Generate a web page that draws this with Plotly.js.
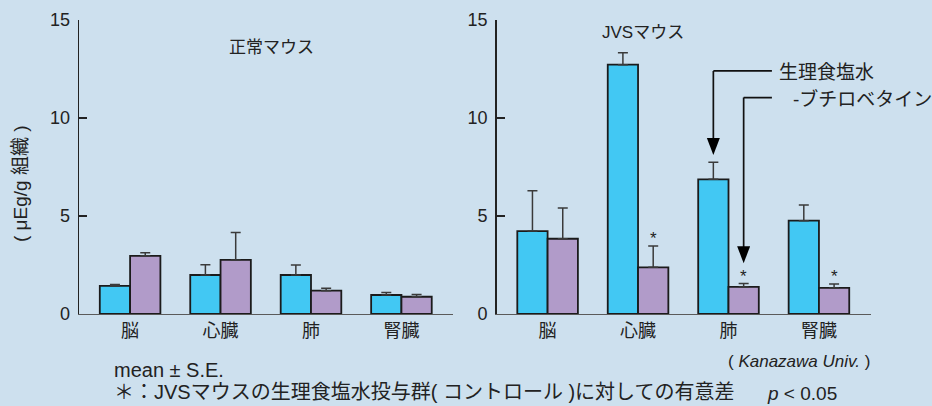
<!DOCTYPE html>
<html>
<head>
<meta charset="utf-8">
<script src="https://cdn.plot.ly/plotly-3.0.1.min.js"></script>
<style>
  html, body { margin: 0; padding: 0; background: #cde0ee; }
  #chart { width: 932px; height: 406px; }
</style>
</head>
<body>
<div id="chart"></div>
<script>
// Organs on the x axis and the two treatment groups
const organs = ['脳', '心臓', '肺', '腎臓'];
const seriesNames = ['生理食塩水', '-ブチロベタイン'];
const panelTitles = ['正常マウス', 'JVSマウス'];
const yTicks = [0, 5, 10, 15];

// 正常マウス: mean and S.E. (μEg/g 組織)
const normalSaline   = [1.43, 1.99, 1.99, 0.97];
const normalSalineSE = [0.08, 0.52, 0.51, 0.13];
const normalButyro   = [2.97, 2.76, 1.19, 0.88];
const normalButyroSE = [0.15, 1.40, 0.12, 0.11];

// JVSマウス: mean and S.E. (μEg/g 組織)
const jvsSaline   = [4.23, 12.72, 6.87, 4.76];
const jvsSalineSE = [2.06, 0.61, 0.87, 0.80];
const jvsButyro   = [3.84, 2.38, 1.38, 1.33];
const jvsButyroSE = [1.57, 1.09, 0.17, 0.20];
const jvsSignificant = [false, true, true, true];

const BLUE = '#42c8f3';
const PURPLE = '#b19bc9';
const BG = '#cde0ee';
const INK = '#222';
const FONT = 'Liberation Sans, Arial, Noto Sans CJK JP, sans-serif';
const BARGAP = 0.33;
const HALF = (1 - BARGAP) / 4;  // offset of each bar centre from the category centre

const idx = organs.map((_, i) => i);
const zeros = organs.map(() => 0);

function barTrace(values, se, color, xa, ya) {
  return {
    type: 'bar', x: idx, y: values, xaxis: xa, yaxis: ya,
    marker: { color: color, line: { color: '#1b1b1b', width: 1.8 } },
    error_y: { type: 'data', symmetric: false, array: se, arrayminus: zeros,
               color: '#3a3a3a', thickness: 1.5, width: 5 },
    hoverinfo: 'skip', showlegend: false
  };
}

const data = [
  barTrace(normalSaline, normalSalineSE, BLUE, 'x', 'y'),
  barTrace(normalButyro, normalButyroSE, PURPLE, 'x', 'y'),
  barTrace(jvsSaline, jvsSalineSE, BLUE, 'x2', 'y2'),
  barTrace(jvsButyro, jvsButyroSE, PURPLE, 'x2', 'y2')
];

const W = 932, H = 406;
const px = v => v / W;
const py = v => 1 - v / H;

function xAxis(domain, anchor) {
  return {
    domain: domain, anchor: anchor, range: [-0.565, 3.57],
    tickvals: idx, ticktext: organs, ticks: '',
    tickfont: { family: FONT, size: 18, color: INK },
    showline: true, linecolor: '#5a5a5a', linewidth: 1.4,
    showgrid: false, zeroline: false, fixedrange: true
  };
}
function yAxis(anchor) {
  return {
    domain: [py(314), py(20)], anchor: anchor, range: [0, 15],
    tickvals: yTicks, ticks: 'inside', ticklen: 8, tickwidth: 1.3, tickcolor: INK,
    ticklabelstandoff: 4,
    tickfont: { family: FONT, size: 18, color: INK },
    showline: true, linecolor: INK, linewidth: 1.3,
    showgrid: false, zeroline: false, fixedrange: true
  };
}

// Leader arrows pointing at the 肺 bars of the JVS panel
const lung = 2;
const salineX = lung - HALF, butyroX = lung + HALF;
const salineTip = jvsSaline[lung] + jvsSalineSE[lung] + 0.37;
const butyroTip = jvsButyro[lung] + jvsButyroSE[lung] + 1.04;
const salineElbow = 12.4, butyroElbow = 11.04, leaderEnd = 2.48;
const lineStyle = { color: '#111', width: 1.7 };

function leader(x, elbow, tip) {
  return [
    { type: 'line', xref: 'x2', yref: 'y2', x0: leaderEnd, x1: x, y0: elbow, y1: elbow, line: lineStyle },
    { type: 'line', xref: 'x2', yref: 'y2', x0: x, x1: x, y0: elbow, y1: tip + 0.5, line: lineStyle },
    { type: 'path', xref: 'x2', yref: 'y2', xsizemode: 'pixel', ysizemode: 'pixel',
      xanchor: x, yanchor: tip, path: 'M0,0 L-6.5,17 L6.5,17 Z',
      fillcolor: '#000', line: { width: 0 } }
  ];
}
const shapes = leader(salineX, salineElbow, salineTip).concat(leader(butyroX, butyroElbow, butyroTip));

function label(text, x, y, xanchor, size, extra) {
  return Object.assign({
    text: text, xref: 'paper', yref: 'paper', x: px(x), y: py(y),
    xanchor: xanchor, yanchor: 'middle', showarrow: false,
    font: { family: FONT, size: size, color: INK }
  }, extra || {});
}

const annotations = [
  label(panelTitles[0], 271, 48, 'center', 17),
  label(panelTitles[1], 643, 32, 'center', 17),
  label('( μEg/g 組織 )', 20, 184, 'center', 19, { textangle: -90 }),
  label(seriesNames[0], 777, 72, 'left', 19),
  label(seriesNames[1], 791, 99, 'left', 19),
  label('( <i>Kanazawa Univ.</i> )', 872, 361, 'right', 17),
  label('mean ± S.E.', 112, 370, 'left', 20),
  label('＊：JVSマウスの生理食塩水投与群( コントロール )に対しての有意差', 112, 392, 'left', 20),
  label('<i>p</i> < 0.05', 839, 393, 'right', 19)
];

// Significance marks above the -ブチロベタイン bars of the JVS panel
jvsSignificant.forEach((sig, i) => {
  if (!sig) return;
  annotations.push({
    text: '*', xref: 'x2', yref: 'y2', x: i + HALF, y: jvsButyro[i] + jvsButyroSE[i],
    xanchor: 'center', yanchor: 'bottom', yshift: -4, showarrow: false,
    font: { family: FONT, size: 17, color: INK }
  });
});

const layout = {
  width: W, height: H,
  margin: { l: 0, r: 0, t: 0, b: 0 },
  paper_bgcolor: BG, plot_bgcolor: BG,
  barmode: 'group', bargap: BARGAP, bargroupgap: 0,
  showlegend: false,
  xaxis: xAxis([px(79), px(453)], 'y'),
  yaxis: yAxis('x'),
  xaxis2: xAxis([px(496.5), px(870.5)], 'y2'),
  yaxis2: yAxis('x2'),
  shapes: shapes,
  annotations: annotations
};

Plotly.newPlot('chart', data, layout, { staticPlot: true, displayModeBar: false });
</script>
</body>
</html>
